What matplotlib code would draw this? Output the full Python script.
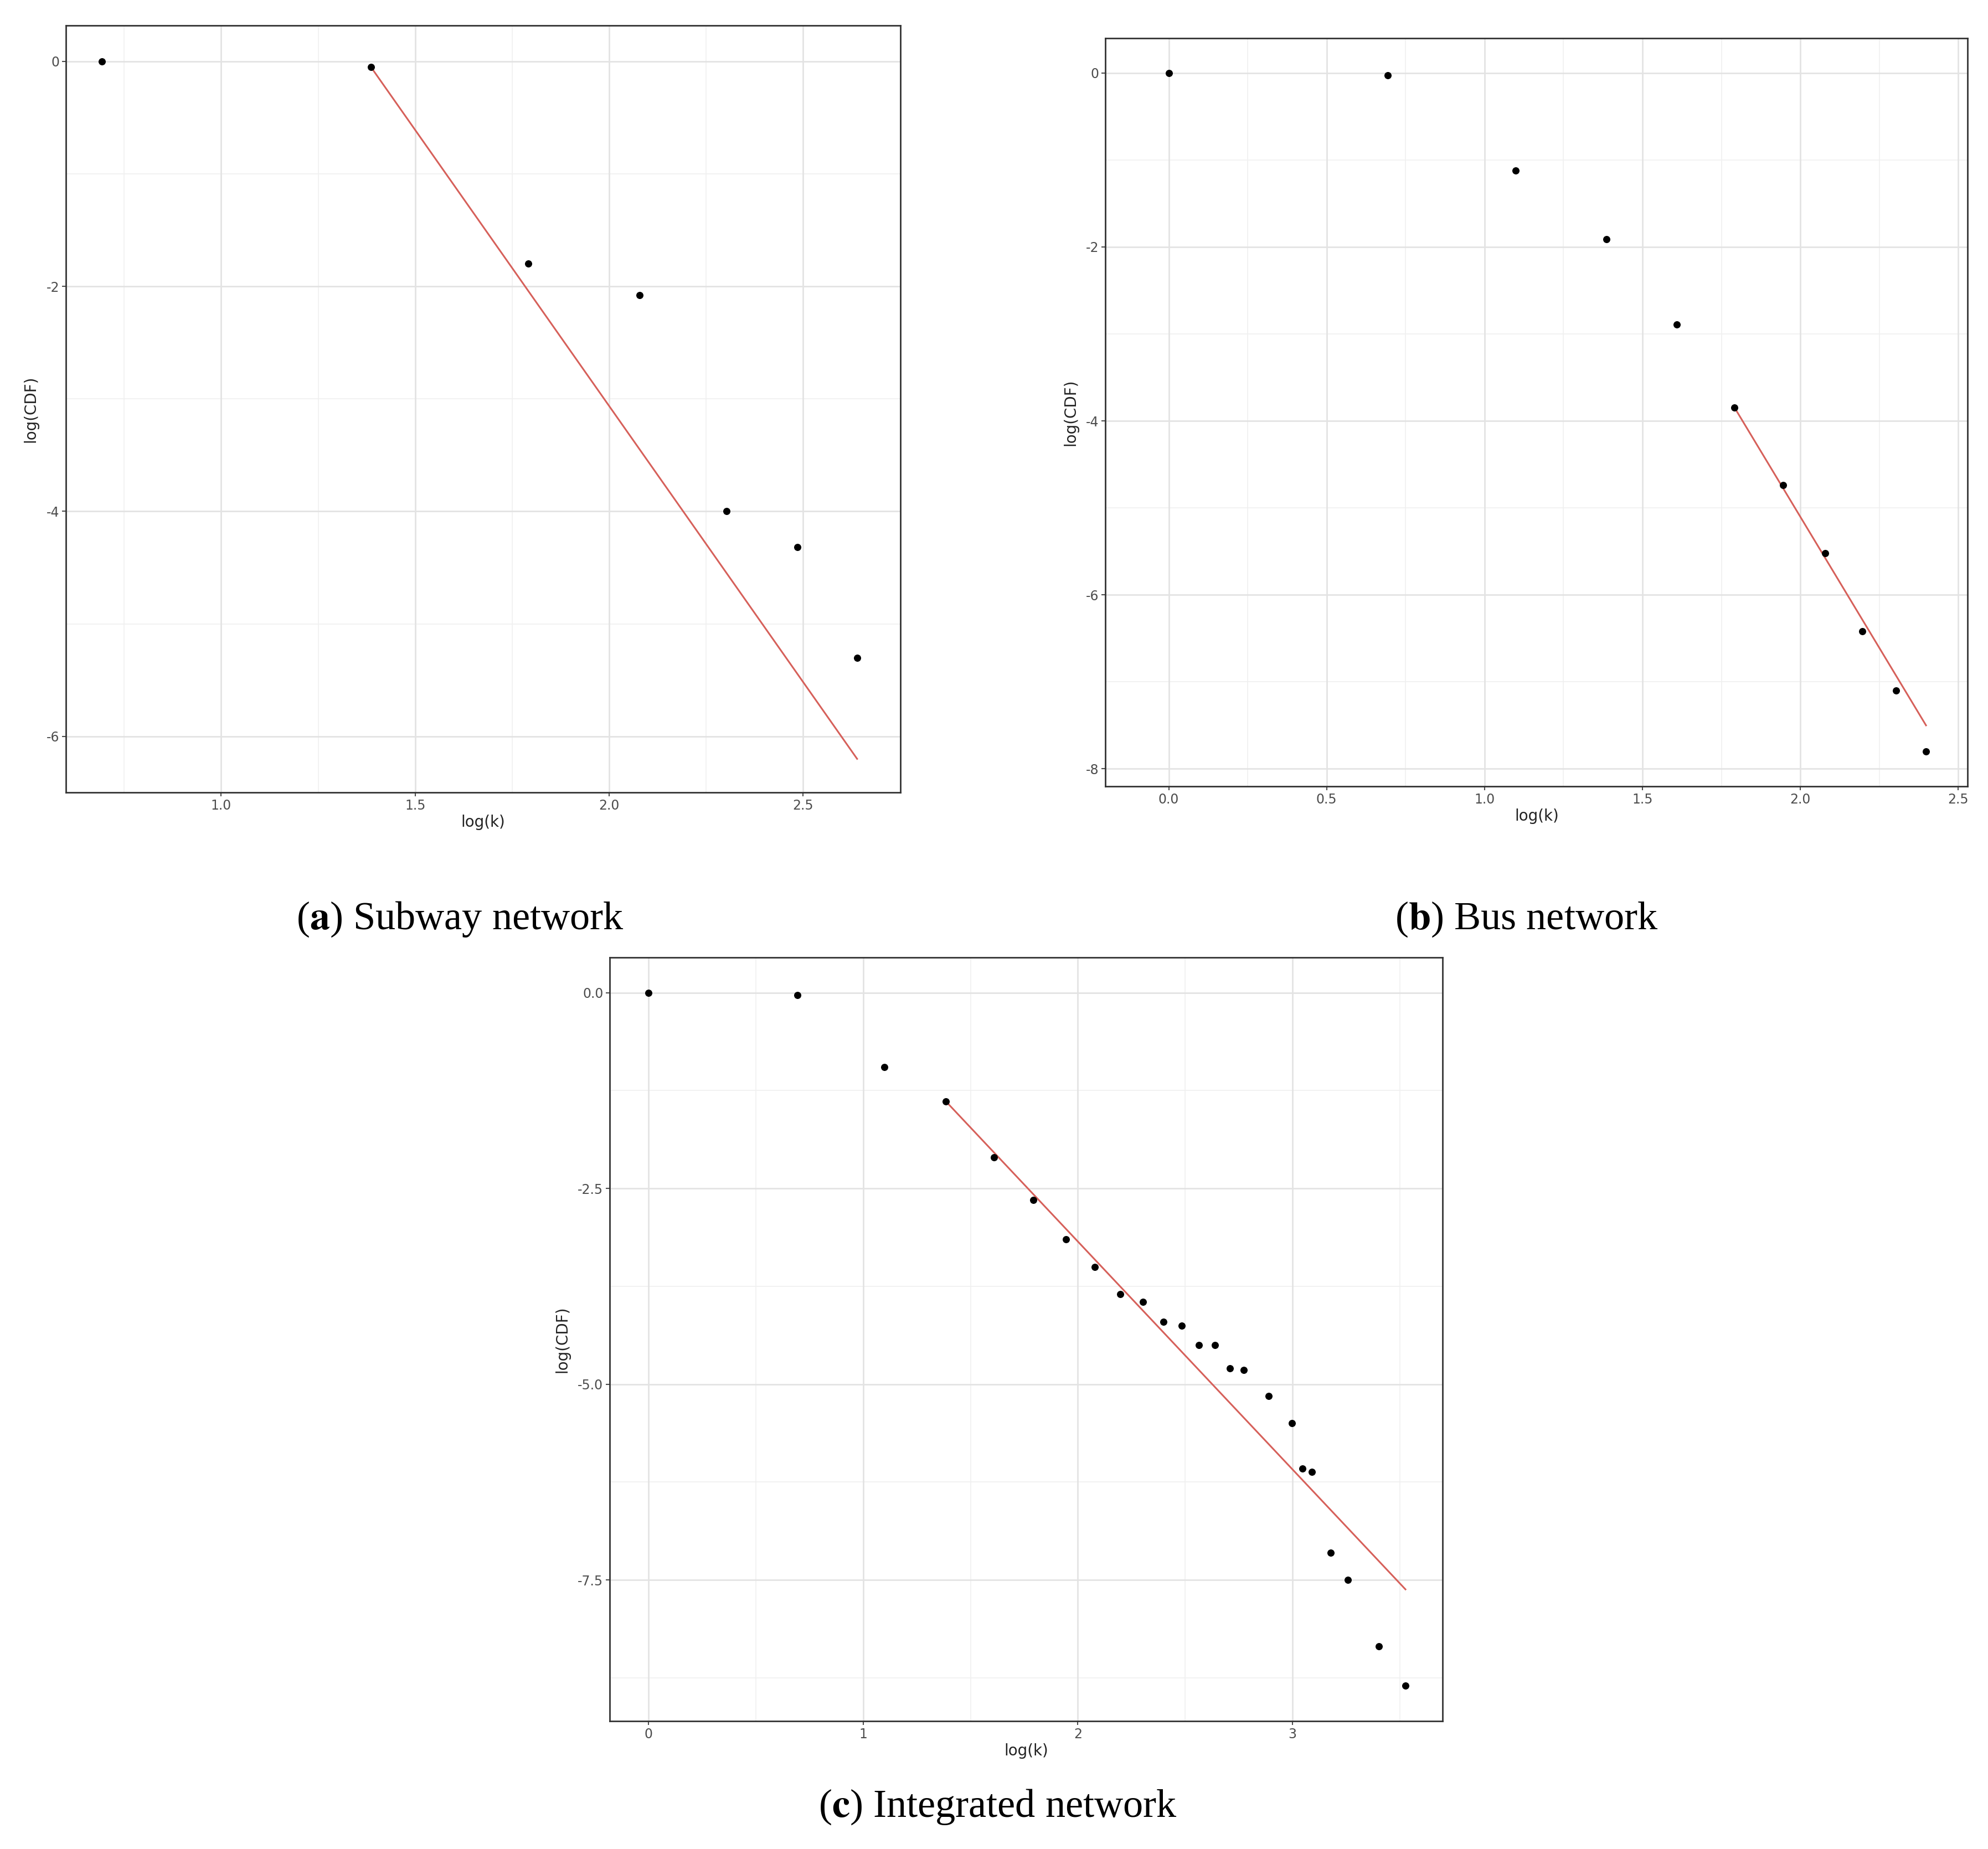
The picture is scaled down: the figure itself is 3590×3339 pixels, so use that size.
import matplotlib
matplotlib.use("Agg")
import matplotlib.pyplot as plt
import numpy as np

# data
a_x = [0.693, 1.386, 1.792, 2.079, 2.303, 2.485, 2.639]
a_y = [0.0, -0.05, -1.80, -2.08, -4.00, -4.32, -5.30]
a_fit_x = [1.386, 2.639]
a_fit_y = [-0.05, -6.20]

b_x = [0.0, 0.693, 1.099, 1.386, 1.609, 1.792, 1.946, 2.079, 2.197, 2.303, 2.398]
b_y = [0.0, -0.03, -1.12, -1.91, -2.89, -3.85, -4.74, -5.52, -6.42, -7.10, -7.80]
b_fit_x = [1.792, 2.398]
b_fit_y = [-3.85, -7.50]

c_x = [0.0, 0.693, 1.099, 1.386, 1.609, 1.792, 1.946, 2.079, 2.197, 2.303, 2.398, 2.485,
       2.565, 2.639, 2.708, 2.773, 2.890, 2.996, 3.045, 3.091, 3.178, 3.258, 3.401, 3.526]
c_y = [0.0, -0.03, -0.95, -1.39, -2.10, -2.65, -3.15, -3.50, -3.85, -3.95, -4.20, -4.25,
       -4.50, -4.50, -4.80, -4.82, -5.15, -5.50, -6.08, -6.12, -7.15, -7.50, -8.35, -8.85]
c_fit_x = [1.386, 3.526]
c_fit_y = [-1.39, -7.62]

W, H = 1568, 1458
fig = plt.figure(figsize=(35.9, 33.39), dpi=100)

def mkax(x0, y0, x1, y1):
    return fig.add_axes([x0 / W, 1 - y1 / H, (x1 - x0) / W, (y1 - y0) / H])

def style(ax, xs, ys, fx, fy, xlim, ylim, xt, xtl, yt, ytl, xminor, yminor):
    ax.set_facecolor("white")
    for v in xminor:
        ax.axvline(v, color="#f0f0f0", lw=1.2, zorder=0)
    for v in yminor:
        ax.axhline(v, color="#f0f0f0", lw=1.2, zorder=0)
    for v in xt:
        ax.axvline(v, color="#e3e3e3", lw=2, zorder=0)
    for v in yt:
        ax.axhline(v, color="#e3e3e3", lw=2, zorder=0)
    ax.plot(fx, fy, color="#d6605a", lw=2.2, zorder=2)
    ax.scatter(xs, ys, s=70, color="black", zorder=3)
    ax.set_xlim(*xlim)
    ax.set_ylim(*ylim)
    ax.set_xticks(xt)
    ax.set_xticklabels(xtl)
    ax.set_yticks(yt)
    ax.set_yticklabels(ytl)
    ax.tick_params(labelsize=17, colors="#4d4d4d", length=5, width=1.5)
    for s in ax.spines.values():
        s.set_color("#333333")
        s.set_linewidth(2)
    ax.set_xlabel("log(k)", fontsize=20, color="#222222", labelpad=3)
    ax.set_ylabel("log(CDF)", fontsize=20, color="#222222", labelpad=10)

ax1 = mkax(52, 20, 710, 625)
style(ax1, a_x, a_y, a_fit_x, a_fit_y, (0.6, 2.75), (-6.5, 0.32),
      [1.0, 1.5, 2.0, 2.5], ["1.0", "1.5", "2.0", "2.5"],
      [-6, -4, -2, 0], ["-6", "-4", "-2", "0"],
      [0.75, 1.25, 1.75, 2.25], [-5, -3, -1])

ax2 = mkax(872, 30, 1552, 620)
style(ax2, b_x, b_y, b_fit_x, b_fit_y, (-0.2, 2.53), (-8.2, 0.4),
      [0.0, 0.5, 1.0, 1.5, 2.0, 2.5], ["0.0", "0.5", "1.0", "1.5", "2.0", "2.5"],
      [-8, -6, -4, -2, 0], ["-8", "-6", "-4", "-2", "0"],
      [0.25, 0.75, 1.25, 1.75, 2.25], [-7, -5, -3, -1])

ax3 = mkax(481, 755, 1138, 1357)
style(ax3, c_x, c_y, c_fit_x, c_fit_y, (-0.18, 3.7), (-9.3, 0.45),
      [0, 1, 2, 3], ["0", "1", "2", "3"],
      [-7.5, -5.0, -2.5, 0.0], ["-7.5", "-5.0", "-2.5", "0.0"],
      [0.5, 1.5, 2.5, 3.5], [-8.75, -6.25, -3.75, -1.25])

def caption(xc, yc, letter, text):
    fig.text(xc / W, 1 - yc / H, r"($\mathbf{" + letter + r"}$) " + text,
             ha="center", va="center", fontsize=52, family="Liberation Serif",
             math_fontfamily="stix")

caption(363, 725, "a", "Subway network")
caption(1204, 725, "b", "Bus network")
caption(787, 1425, "c", "Integrated network")

fig.savefig("out.png", dpi=100, facecolor="white")
